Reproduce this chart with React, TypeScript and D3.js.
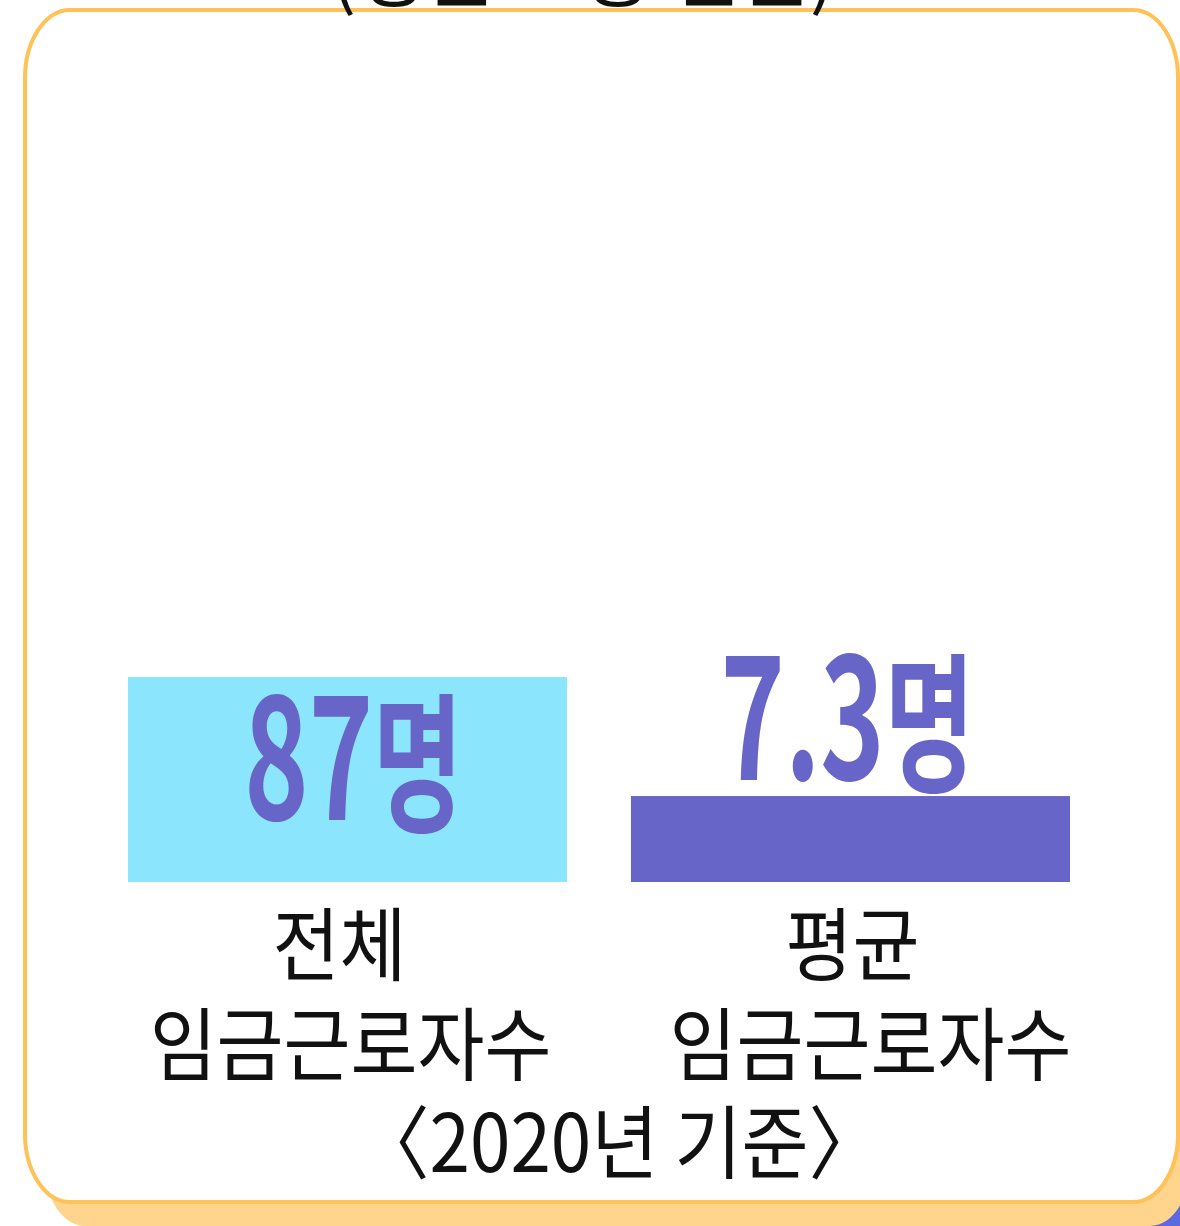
import * as d3 from 'd3';

const categories = ['전체 임금근로자수', '평균 임금근로자수'];
const labelLines = [['전체', '임금근로자수'], ['평균', '임금근로자수']];
const values = [87, 7.3];
const valueTexts = ['87', '7.3'];
const unit = '명';
const barColors = ['#8BE6FD', '#6865C8'];
const title = '(평균 고용 인원)';
const note = '〈2020년 기준〉';

const W = 1180;
const H = 1226;
const FONT = '"Noto Sans CJK KR", "Noto Sans", sans-serif';

// small nudges of the label texts, per bar
const lineShift = [[-8, 3], [2, 20]];
const valueShift = [6, -3];

// rounded card with elliptical corners
const cardPath = (x0: number, y0: number, x1: number, y1: number, rx: number, ry: number) => {
    const p = d3.path();
    const k = 0.45;
    p.moveTo(x0 + rx, y0);
    p.lineTo(x1 - rx, y0);
    p.bezierCurveTo(x1 - rx * k, y0, x1, y0 + ry * k, x1, y0 + ry);
    p.lineTo(x1, y1 - ry);
    p.bezierCurveTo(x1, y1 - ry * k, x1 - rx * k, y1, x1 - rx, y1);
    p.lineTo(x0 + rx, y1);
    p.bezierCurveTo(x0 + rx * k, y1, x0, y1 - ry * k, x0, y1 - ry);
    p.lineTo(x0, y0 + ry);
    p.bezierCurveTo(x0, y0 + ry * k, x0 + rx * k, y0, x0 + rx, y0);
    p.closePath();
    return p.toString();
};

const App = () => {
    const baseY = 882;

    const x = d3.scaleBand<string>()
        .domain(categories)
        .range([128, 1070])
        .paddingInner(0.127)
        .paddingOuter(0);

    const y = d3.scaleLog()
        .domain([1.22, 87])
        .range([baseY, 677]);

    const sx = 0.91;

    return (
        <svg width={W} height={H} style={{position: 'absolute', left: 0, top: 0}} fontFamily={FONT}>
            <rect width={W} height={H} fill="#ffffff" />
            {/* back layers */}
            <path d={cardPath(700, 1060, 1210, 1260, 45, 68)} fill="#5B6AE0" />
            <path d={cardPath(45, 900, 1190, 1226, 40, 60)} fill="#FFD48C" />
            <path d={cardPath(25, 10, 1178, 1202, 45, 68)} fill="#ffffff" stroke="#FFC257" strokeWidth={4} />

            {/* cut-off title */}
            <text transform={`translate(583,0) scale(0.95,1)`} textAnchor="middle" fontSize={80} fill="#111">{title}</text>

            {categories.map((c, i) => {
                const bx = x(c) ?? 0;
                const cx = bx + x.bandwidth() / 2;
                const top = y(values[i]);
                const labelY = i === 0 ? top + 143 : top - 16;
                return (
                    <g key={c}>
                        <rect x={bx} y={top} width={x.bandwidth()} height={baseY - top} fill={barColors[i]} />
                        <text transform={`translate(${cx + valueShift[i]},${labelY}) scale(0.65,1)`} textAnchor="middle" fill="#6865C8" fontWeight={700}>
                            <tspan fontSize={168}>{valueTexts[i]}</tspan>
                            <tspan fontSize={150}>{unit}</tspan>
                        </text>
                        {labelLines[i].map((l, j) => (
                            <text key={j} transform={`translate(${cx + lineShift[i][j]},${974 + j * 100}) scale(${sx},1)`} textAnchor="middle" fontSize={80} fill="#111">{l}</text>
                        ))}
                    </g>
                );
            })}

            <text transform={`translate(619,1172) scale(${sx},1)`} textAnchor="middle" fontSize={80} fill="#111">{note}</text>
        </svg>
    );
};

export default App;
